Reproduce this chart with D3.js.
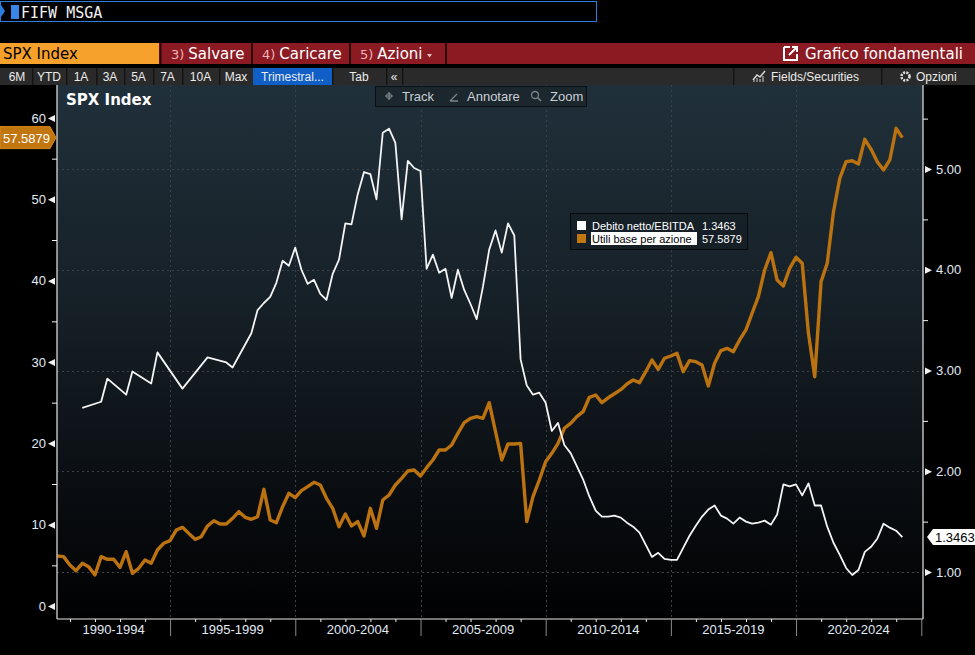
<!DOCTYPE html>
<html>
<head>
<meta charset="utf-8">
<title>SPX Index - Grafico fondamentali</title>
<script src="https://d3js.org/d3.v7.min.js"></script>
<style>
  body { margin: 0; background: #000; overflow: hidden; }
  svg { display: block; }
  .ui { font-family: "DejaVu Sans", sans-serif; }
  .lib { font-family: "Liberation Sans", Arial, sans-serif; }
</style>
</head>
<body>
<script>
// ---- data ----
// quarterly values, orange series starts 1990 Q2, white series starts 1991 Q2, both end 2024 Q1
const epsStart = [1990, 2];
const epsValues = [
  6.15, 6.07, 5.04, 4.34, 5.25, 4.84, 3.81, 6.07, 5.74, 5.74, 4.75, 6.68, 4.02, 4.63, 5.66, 5.25,
  6.89, 7.71, 8.03, 9.34, 9.67, 8.93, 8.20, 8.52, 9.84, 10.49, 10.08, 10.08, 10.78, 11.60, 10.90, 10.66,
  10.98, 14.35, 10.57, 10.24, 12.21, 13.86, 13.32, 14.18, 14.67, 15.21, 14.88, 13.24, 12.01, 9.75, 11.31, 9.84,
  10.37, 8.61, 12.01, 9.55, 13.03, 13.65, 14.88, 15.70, 16.60, 16.72, 15.98, 17.01, 17.95, 19.18, 19.18, 19.80,
  21.23, 22.54, 23.07, 23.28, 23.07, 25.00, 21.43, 17.95, 19.92, 19.92, 20.00, 10.37, 13.44, 15.49, 17.74, 18.77,
  20.00, 21.85, 22.46, 23.28, 23.89, 25.66, 25.94, 25.00, 25.60, 26.10, 26.60, 27.30, 27.79, 27.46, 28.81, 30.25,
  29.10, 30.46, 30.74, 31.07, 28.81, 30.17, 30.04, 29.63, 27.05, 29.84, 31.40, 31.68, 31.27, 32.71, 33.94, 35.99,
  38.03, 41.31, 43.44, 40.08, 39.35, 41.52, 42.87, 42.14, 33.53, 28.19, 39.88, 42.14, 48.48, 52.58, 54.63, 54.75,
  54.35, 57.38, 56.15, 54.63, 53.61, 54.84, 58.73, 57.5879
];
const debtStart = [1991, 2];
const debtValues = [
  2.63, null, null, 2.69, 2.92, null, null, 2.76, 2.99, null, null, 2.87, 3.18, null, null, null,
  2.82, null, null, null, 3.13, null, null, 3.08, 3.03, null, null, 3.37, 3.60, 3.67, 3.73, 3.87,
  4.09, 4.04, 4.22, 4.00, 3.86, 3.90, 3.76, 3.70, 3.96, 4.10, 4.46, 4.45, 4.75, 4.97, 4.95, 4.70,
  5.36, 5.40, 5.26, 4.50, 5.08, 5.01, 4.98, 4.01, 4.15, 3.97, 4.01, 3.72, 4.00, 3.80, 3.66, 3.51,
  3.83, 4.20, 4.39, 4.17, 4.46, 4.34, 3.11, 2.85, 2.76, 2.78, 2.68, 2.40, 2.48, 2.26, 2.18, 2.05,
  1.92, 1.75, 1.61, 1.55, 1.55, 1.56, 1.54, 1.49, 1.45, 1.39, 1.27, 1.15, 1.19, 1.13, 1.12, 1.12,
  1.24, 1.36, 1.46, 1.55, 1.62, 1.66, 1.56, 1.53, 1.48, 1.54, 1.50, 1.48, 1.49, 1.51, 1.47, 1.57,
  1.87, 1.85, 1.87, 1.76, 1.88, 1.66, 1.66, 1.45, 1.29, 1.17, 1.04, 0.97, 1.02, 1.20, 1.25, 1.33,
  1.48, 1.44, 1.41, 1.3463
];
const periodLabels = ["1990-1994", "1995-1999", "2000-2004", "2005-2009", "2010-2014", "2015-2019", "2020-2024"];
const periodStarts = [1990, 1995, 2000, 2005, 2010, 2015, 2020];
const leftTicks = [0, 10, 20, 30, 40, 50, 60];
const rightTicks = [1, 2, 3, 4, 5];
const seriesNames = ["Debito netto/EBITDA", "Utili base per azione"];
const toolbarButtons = ["6M", "YTD", "1A", "3A", "5A", "7A", "10A", "Max", "Trimestral...", "Tab", "\u00ab"];

// quarter-end date for index i counted from a start [year, quarter]
function quarterDate(start, i) {
  const q = (start[1] - 1) + i;
  const y = start[0] + Math.floor(q / 4);
  return new Date(y, (q % 4) * 3 + 3, 0);
}
const eps = epsValues.map((v, i) => ({ date: quarterDate(epsStart, i), value: v }));
const debt = debtValues.map((v, i) => ({ date: quarterDate(debtStart, i), value: v }));

// ---- layout ----
const W = 975, H = 655;
const plot = { left: 57, right: 923, top: 85, bottom: 619 };

const svg = d3.select("body").append("svg").attr("width", W).attr("height", H);
svg.append("rect").attr("width", W).attr("height", H).attr("fill", "#000");

const defs = svg.append("defs");
const grad = defs.append("linearGradient").attr("id", "bg").attr("x1", 0).attr("y1", 0).attr("x2", 0).attr("y2", 1);
grad.append("stop").attr("offset", "0%").attr("stop-color", "#20303a");
grad.append("stop").attr("offset", "45%").attr("stop-color", "#151e25");
grad.append("stop").attr("offset", "100%").attr("stop-color", "#010102");

// ---- top command line ----
svg.append("rect").attr("x", 0.5).attr("y", 1.5).attr("width", 596).attr("height", 20)
  .attr("fill", "#000").attr("stroke", "#2b7de0");
svg.append("path").attr("d", "M1,5 L5,11 L1,17 Z").attr("fill", "#2b7de0");
svg.append("rect").attr("x", 11).attr("y", 5).attr("width", 8).attr("height", 14).attr("fill", "#3a86e8");
svg.append("text").attr("x", 21).attr("y", 18).attr("fill", "#f2f2f2")
  .style("font-family", "'DejaVu Sans Mono', monospace").style("font-size", "15px").text("FIFW MSGA");

// ---- red menu row ----
const row2 = svg.append("g").attr("class", "ui").style("font-size", "15px");
row2.append("rect").attr("x", 0).attr("y", 43).attr("width", W).attr("height", 21).attr("fill", "#8c1a22");
row2.append("rect").attr("x", 0).attr("y", 43).attr("width", 159).attr("height", 21).attr("fill", "#f6a12c");
[159.5, 251, 349, 445].forEach(x => {
  row2.append("rect").attr("x", x).attr("y", 43).attr("width", 2).attr("height", 21).attr("fill", "#2a0508");
});
row2.append("text").attr("x", 3).attr("y", 59).attr("fill", "#000").text("SPX Index");
[["3)", "Salvare", 171], ["4)", "Caricare", 262], ["5)", "Azioni", 360]].forEach(([n, t, x]) => {
  const tx = row2.append("text").attr("x", x).attr("y", 59);
  tx.append("tspan").attr("fill", "#f0b3b8").style("font-size", "13px").text(n);
  tx.append("tspan").attr("dx", 4).attr("fill", "#fff").text(t);
});
row2.append("path").attr("d", "M427,54 L432,54 L429.5,57.5 Z").attr("fill", "#e8c0c4");
// external-link icon
row2.append("path").attr("d", "M784,47 L790,47 M784,47 L784,60 L797,60 L797,54")
  .attr("fill", "none").attr("stroke", "#fff").attr("stroke-width", 2);
row2.append("path").attr("d", "M789,55 L797,47 M792,47 L797,47 L797,52")
  .attr("fill", "none").attr("stroke", "#fff").attr("stroke-width", 2);
row2.append("text").attr("x", 963).attr("y", 59).attr("text-anchor", "end").attr("fill", "#fff").text("Grafico fondamentali");

// ---- toolbar row ----
const row3 = svg.append("g").attr("class", "lib").style("font-size", "12px");
row3.append("rect").attr("x", 0).attr("y", 68).attr("width", W).attr("height", 17).attr("fill", "#2a2a2a");
const btnEdges = [2, 32, 66, 96, 124, 153, 182, 219, 253, 332, 386, 402];
toolbarButtons.forEach((b, i) => {
  const x0 = btnEdges[i], x1 = btnEdges[i + 1];
  if (b.startsWith("Trim")) {
    row3.append("rect").attr("x", x0).attr("y", 68).attr("width", x1 - x0).attr("height", 17).attr("fill", "#0f5fc7");
  }
  row3.append("rect").attr("x", x1).attr("y", 68).attr("width", 1.5).attr("height", 17).attr("fill", "#141414");
  row3.append("text").attr("x", (x0 + x1) / 2).attr("y", 81).attr("text-anchor", "middle")
    .attr("fill", "#ececec").text(b);
});
row3.append("rect").attr("x", 733).attr("y", 68).attr("width", 1.5).attr("height", 17).attr("fill", "#141414");
row3.append("rect").attr("x", 881).attr("y", 68).attr("width", 1.5).attr("height", 17).attr("fill", "#141414");
row3.append("path").attr("d", "M753,80 L757,75 L760,77 L765,71").attr("fill", "none").attr("stroke", "#d8d8d8").attr("stroke-width", 1.5);
row3.append("path").attr("d", "M754,82 L754,80 M757,82 L757,78 M760,82 L760,79 M763,82 L763,76").attr("stroke", "#9a9a9a").attr("stroke-width", 1.5);
row3.append("text").attr("x", 771).attr("y", 81).attr("fill", "#ececec").text("Fields/Securities");
row3.append("circle").attr("cx", 905.5).attr("cy", 76.5).attr("r", 4).attr("fill", "none").attr("stroke", "#e0e0e0").attr("stroke-width", 2.5).attr("stroke-dasharray", "2,1.2");
row3.append("circle").attr("cx", 905.5).attr("cy", 76.5).attr("r", 1.5).attr("fill", "#2a2a2a");
row3.append("text").attr("x", 916).attr("y", 81).attr("fill", "#ececec").text("Opzioni");

// ---- chart panel ----
svg.append("rect").attr("x", plot.left).attr("y", plot.top)
  .attr("width", plot.right - plot.left).attr("height", plot.bottom - plot.top).attr("fill", "url(#bg)");

const x = d3.scaleTime()
  .domain([new Date(1990, 5, 26), new Date(2025, 0, 26)])
  .range([plot.left, plot.right]);
const yL = d3.scaleLinear().domain([0, 60]).range([606, 118]);
const yR = d3.scaleLinear().domain([1, 5]).range([572, 169]);

// grid (faint dotted)
const grid = svg.append("g").attr("stroke", "#3b4147").attr("stroke-dasharray", "2,3").attr("stroke-width", 1);
rightTicks.forEach(v => {
  grid.append("line").attr("x1", plot.left).attr("x2", plot.right).attr("y1", Math.round(yR(v)) + 0.5).attr("y2", Math.round(yR(v)) + 0.5);
});
periodStarts.slice(1).forEach(yr => {
  const gx = Math.round(x(new Date(yr, 0, 1))) + 0.5;
  grid.append("line").attr("x1", gx).attr("x2", gx).attr("y1", plot.top).attr("y2", plot.bottom);
});

// title
svg.append("text").attr("x", 66).attr("y", 105).attr("fill", "#fff")
  .style("font-family", "'DejaVu Sans', sans-serif").style("font-weight", "bold").style("font-size", "15px")
  .text("SPX Index");

// chart mini toolbar
const tb = svg.append("g").attr("class", "lib").style("font-size", "13px");
tb.append("rect").attr("x", 375.5).attr("y", 86.5).attr("width", 211).attr("height", 20)
  .attr("fill", "#1b262d").attr("stroke", "#0b0f12");
tb.append("path").attr("d", "M385,96 L393,96 M389,92 L389,100").attr("stroke", "#7d858c").attr("stroke-width", 1.2);
tb.append("circle").attr("cx", 389).attr("cy", 96).attr("r", 2.5).attr("fill", "none").attr("stroke", "#7d858c");
tb.append("text").attr("x", 402).attr("y", 101).attr("fill", "#c9cfd5").text("Track");
tb.append("path").attr("d", "M450,101 L457,94 M450,101 L458,101").attr("stroke", "#7d858c").attr("stroke-width", 1.3);
tb.append("text").attr("x", 467).attr("y", 101).attr("fill", "#c9cfd5").text("Annotare");
tb.append("circle").attr("cx", 535).attr("cy", 95).attr("r", 3.5).attr("fill", "none").attr("stroke", "#7d858c").attr("stroke-width", 1.3);
tb.append("path").attr("d", "M537.5,97.5 L541,101").attr("stroke", "#7d858c").attr("stroke-width", 1.5);
tb.append("text").attr("x", 550).attr("y", 101).attr("fill", "#c9cfd5").text("Zoom");

// lines
const lineL = d3.line().x(d => x(d.date)).y(d => yL(d.value));
const lineR = d3.line().x(d => x(d.date)).y(d => yR(d.value));

svg.append("path").datum(eps).attr("d", lineL)
  .attr("fill", "none").attr("stroke", "#bb7210").attr("stroke-width", 3.4).attr("stroke-linejoin", "round");
svg.append("path").datum(debt.filter(d => d.value != null)).attr("d", lineR)
  .attr("fill", "none").attr("stroke", "#f4f4f4").attr("stroke-width", 1.8).attr("stroke-linejoin", "round");

// frame lines
const frame = svg.append("g").attr("stroke", "#e8e8e8").attr("stroke-width", 1.2);
frame.append("line").attr("x1", plot.left).attr("x2", plot.left).attr("y1", plot.top).attr("y2", plot.bottom);
frame.append("line").attr("x1", plot.right).attr("x2", plot.right).attr("y1", plot.top).attr("y2", plot.bottom);
frame.append("line").attr("x1", plot.left).attr("x2", plot.right).attr("y1", plot.bottom).attr("y2", plot.bottom);

// left axis
const axL = svg.append("g").attr("class", "lib").attr("transform", `translate(${plot.left},0)`)
  .call(d3.axisLeft(yL).tickValues(leftTicks).tickSize(0).tickPadding(11));
axL.select(".domain").remove();
axL.selectAll("text").attr("fill", "#e2ebf5").style("font-size", "13px");
axL.selectAll(".tick").append("path").attr("d", "M-9,0 L-2,-3.5 L-2,3.5 Z").attr("fill", "#f2f2f2");
const axLm = svg.append("g").attr("transform", `translate(${plot.left},0)`)
  .call(d3.axisLeft(yL).tickValues(leftTicks.slice(1).map(v => v - 5)).tickSize(5).tickFormat(""));
axLm.select(".domain").remove();
axLm.selectAll("line").attr("stroke", "#f2f2f2");

// right axis
const axR = svg.append("g").attr("class", "lib").attr("transform", `translate(${plot.right},0)`)
  .call(d3.axisRight(yR).tickValues(rightTicks).tickFormat(d3.format(".2f")).tickSize(0).tickPadding(13));
axR.select(".domain").remove();
axR.selectAll("text").attr("fill", "#e2ebf5").style("font-size", "13px");
axR.selectAll(".tick").append("path").attr("d", "M9,0 L2,-3.5 L2,3.5 Z").attr("fill", "#f2f2f2");
const axRm = svg.append("g").attr("transform", `translate(${plot.right},0)`)
  .call(d3.axisRight(yR).tickValues(rightTicks.map(v => v + 0.5)).tickSize(5).tickFormat(""));
axRm.select(".domain").remove();
axRm.selectAll("line").attr("stroke", "#f2f2f2");

// bottom axis: yearly minor ticks, 5-year separators, period labels
const minorYears = d3.range(1991, 2025).filter(y => y % 5 !== 0).map(y => new Date(y, 0, 1));
const axBm = svg.append("g").attr("transform", `translate(0,${plot.bottom})`)
  .call(d3.axisBottom(x).tickValues(minorYears).tickSize(3).tickFormat(""));
axBm.select(".domain").remove();
axBm.selectAll("line").attr("stroke", "#e8e8e8");
const majorYears = periodStarts.slice(1).concat([2025]).map(y => new Date(y, 0, 1));
const axBM = svg.append("g").attr("transform", `translate(0,${plot.bottom})`)
  .call(d3.axisBottom(x).tickValues(majorYears).tickSize(17).tickFormat(""));
axBM.select(".domain").remove();
axBM.selectAll("line").attr("stroke", "#8c8c8c");
periodLabels.forEach((lab, i) => {
  const a = Math.max(plot.left, x(new Date(periodStarts[i], 0, 1)));
  const b = Math.min(plot.right, x(new Date(periodStarts[i] + 5, 0, 1)));
  svg.append("text").attr("class", "lib").attr("x", (a + b) / 2).attr("y", 634)
    .attr("text-anchor", "middle").attr("fill", "#e2ebf5").style("font-size", "13px").text(lab);
});

// last-value tags
const lastEps = eps[eps.length - 1], lastDebt = debt[debt.length - 1];
const cyL = yL(lastEps.value);
svg.append("path").attr("d", `M0,${cyL - 11} L50,${cyL - 11} L56,${cyL} L50,${cyL + 11} L0,${cyL + 11} Z`)
  .attr("fill", "#c27610").attr("stroke", "#d98a1a");
svg.append("text").attr("class", "lib").attr("x", 3).attr("y", cyL + 5).attr("fill", "#fff")
  .style("font-size", "13px").text(d3.format(".4f")(lastEps.value));
const cyR = yR(lastDebt.value);
svg.append("path").attr("d", `M927,${cyR} L933,${cyR - 8} L975,${cyR - 8} L975,${cyR + 8} L933,${cyR + 8} Z`)
  .attr("fill", "#fff");
svg.append("text").attr("class", "lib").attr("x", 935).attr("y", cyR + 5).attr("fill", "#000")
  .style("font-size", "13px").text(d3.format(".4f")(lastDebt.value));

// legend
const lg = svg.append("g").attr("class", "lib").style("font-size", "11px");
lg.append("rect").attr("x", 570.5).attr("y", 213.5).attr("width", 177).attr("height", 36)
  .attr("fill", "#141d23").attr("fill-opacity", 0.6).attr("stroke", "#07090b");
lg.append("rect").attr("x", 577).attr("y", 221).attr("width", 9).attr("height", 9).attr("fill", "#fff");
lg.append("text").attr("x", 592).attr("y", 230).attr("fill", "#fff").text(seriesNames[0]);
lg.append("text").attr("x", 702).attr("y", 230).attr("fill", "#fff").text(d3.format(".4f")(lastDebt.value));
lg.append("rect").attr("x", 577).attr("y", 234).attr("width", 9).attr("height", 9).attr("fill", "#c27610");
lg.append("rect").attr("x", 591).attr("y", 232).attr("width", 106).attr("height", 13).attr("fill", "#fff");
lg.append("text").attr("x", 592).attr("y", 243).attr("fill", "#000").text(seriesNames[1]);
lg.append("text").attr("x", 702).attr("y", 243).attr("fill", "#fff").text(d3.format(".4f")(lastEps.value));
</script>
</body>
</html>
